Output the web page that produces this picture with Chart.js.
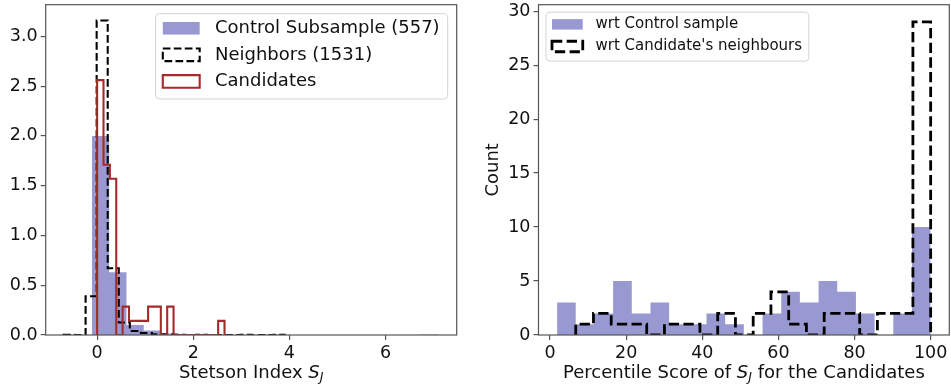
<!DOCTYPE html>
<html>
<head>
<meta charset="utf-8">
<script src="https://cdn.jsdelivr.net/npm/chart.js@4.4.1/dist/chart.umd.min.js"></script>
<style>
  html, body { margin: 0; padding: 0; background: #fff; }
  #wrap { position: relative; width: 951px; height: 388px; }
  .panel { position: absolute; top: 0; }
</style>
</head>
<body>
<div id="wrap">
  <div class="panel" style="left:0"><canvas id="left" width="480" height="388"></canvas></div>
  <div class="panel" style="left:480px"><canvas id="right" width="471" height="388"></canvas></div>
</div>
<script>
// --- DATA: left panel, density histograms of the Stetson index ---
const controlStart = -0.11;
const controlWidth = 0.36;
const controlDensity = [2.0, 0.63, 0.10, 0.045, 0.015, 0.005, 0, 0, 0, 0, 0.005, 0, 0, 0, 0, 0, 0, 0, 0, 0.005];

const neighStart = -0.70;
const neighWidth = 0.23;
const neighDensity = [0.003, 0, 0.39, 3.16, 0.67, 0.125, 0.04, 0.02, 0.008, 0.006, 0.003, 0, 0.003, 0, 0, 0, 0.003, 0, 0, 0.003];

const candStart = 0;
const candWidth = 0.1325;
const candDensity = [2.56, 1.71, 1.57, 0, 0.285, 0.142, 0.142, 0.142, 0.285, 0.285, 0, 0.285, 0, 0, 0, 0, 0, 0, 0, 0.142];

const leftXTicks = [0, 2, 4, 6];
const leftYTicks = [0, 0.5, 1.0, 1.5, 2.0, 2.5, 3.0];

// --- DATA: right panel, percentile scores of the candidates ---
const pctControlStart = 1.85;
const pctControlWidth = 4.9075;
const pctControlCounts = [3, 1, 2, 5, 2, 3, 1, 1, 2, 1, 0, 2, 4, 3, 5, 4, 2, 0, 2, 10];

const pctNeighStart = 6.75;
const pctNeighWidth = 4.6625;
const pctNeighCounts = [1, 2, 1, 1, 0, 1, 1, 0, 2, 0, 2, 4, 1, 0, 2, 2, 0, 2, 2, 29];

const rightXTicks = [0, 20, 40, 60, 80, 100];
const rightYTicks = [0, 5, 10, 15, 20, 25, 30];

// --- STYLE ---
const FONT = "'DejaVu Sans', sans-serif";
const FRAME = '#555';
const TEXT = '#111';
const CONTROL_FILL = 'rgba(0, 0, 139, 0.4)';
const CAND_RED = '#a52a2a';

Chart.defaults.font.family = FONT;
Chart.defaults.color = TEXT;
Chart.defaults.animation = false;

// outline of a histogram as a stepped line: edges and heights
function histPoints(start, width, values) {
    const pts = [{ x: start, y: 0 }];
    values.forEach((v, i) => pts.push({ x: start + i * width, y: v }));
    pts.push({ x: start + values.length * width, y: 0 });
    return pts;
}

// label with an italic S and subscript J, like matplotlib mathtext
function drawMath(ctx, parts, cx, y, size) {
    const fontFor = p => `${p.it ? 'italic ' : ''}${p.sub ? size * 0.7 : size}px ${FONT}`;
    const widths = parts.map(p => { ctx.font = fontFor(p); return ctx.measureText(p.t).width; });
    let x = cx - widths.reduce((s, w) => s + w, 0) / 2;
    ctx.textAlign = 'left';
    ctx.textBaseline = 'alphabetic';
    ctx.fillStyle = TEXT;
    parts.forEach((p, i) => {
        ctx.font = fontFor(p);
        ctx.fillText(p.t, x, y + (p.sub ? size * 0.2 : 0));
        x += widths[i];
    });
}

function drawLegend(ctx, a, L) {
    const fs = L.size;
    ctx.font = `${fs}px ${FONT}`;
    const tw = Math.max(...L.items.map(it => ctx.measureText(it.label).width));
    const w = fs * 3.75 + tw;
    const h = fs * (0.81 + 1.475 * (L.items.length - 1) + 0.98);
    const x = L.corner === 'right' ? a.right - fs * 0.5 - w : a.left + fs * 0.5;
    const y = a.top + fs * 0.5;

    ctx.beginPath();
    ctx.roundRect(x, y, w, h, 4);
    ctx.fillStyle = 'rgba(255,255,255,0.8)';
    ctx.fill();
    ctx.lineWidth = 1;
    ctx.strokeStyle = '#d3d3d3';
    ctx.stroke();

    L.items.forEach((it, i) => {
        const cy = y + fs * (0.81 + 1.475 * i);
        const hx = x + fs * 0.4, hw = fs * 2.05, hh = fs * 0.7;
        ctx.save();
        if (it.kind === 'fill') {
            ctx.fillStyle = it.color;
            ctx.fillRect(hx, cy - hh / 2, hw, hh);
        } else {
            ctx.strokeStyle = it.color;
            ctx.lineWidth = it.lw;
            ctx.setLineDash(it.dash);
            ctx.beginPath();
            ctx.rect(hx, cy - hh / 2, hw, hh);
            ctx.stroke();
        }
        ctx.restore();
        ctx.fillStyle = TEXT;
        ctx.font = `${fs}px ${FONT}`;
        ctx.textAlign = 'left';
        ctx.textBaseline = 'middle';
        ctx.fillText(it.label, hx + hw + fs * 0.85, cy);
    });
}

// frame, axis titles and legend, drawn the way matplotlib does
function makeDecorations(o) {
    return {
        id: 'decorations',
        afterDraw(chart) {
            const { ctx, chartArea: a } = chart;
            ctx.save();
            ctx.strokeStyle = FRAME;
            ctx.lineWidth = 1.2;
            ctx.strokeRect(a.left, a.top, a.right - a.left, a.bottom - a.top);
            drawMath(ctx, o.xTitle, (a.left + a.right) / 2, 377.5, 18);
            if (o.yTitle) {
                ctx.save();
                ctx.translate(13, (a.top + a.bottom) / 2);
                ctx.rotate(-Math.PI / 2);
                ctx.font = `18px ${FONT}`;
                ctx.fillStyle = TEXT;
                ctx.textAlign = 'center';
                ctx.textBaseline = 'middle';
                ctx.fillText(o.yTitle, 0, 0);
                ctx.restore();
            }
            drawLegend(ctx, a, o.legend);
            ctx.restore();
        }
    };
}

function axis(min, max, ticks, fmt, size) {
    return {
        type: 'linear',
        min: min,
        max: max,
        afterBuildTicks: s => { s.ticks = ticks.map(v => ({ value: v })); },
        afterFit: s => {
            if (s.isHorizontal()) s.height = 388 - 335; else s.width = size;
            s.paddingLeft = s.paddingRight = s.paddingTop = s.paddingBottom = 0;
        },
        grid: { drawOnChartArea: false, drawTicks: true, tickLength: 5, color: FRAME, lineWidth: 1.2 },
        border: { display: false },
        ticks: { font: { size: 17.5 }, color: TEXT, padding: 3, maxRotation: 0, autoSkip: false, callback: fmt }
    };
}

function stepLine(label, points, extra) {
    return Object.assign({
        label: label,
        data: points,
        stepped: 'before',
        pointRadius: 0,
        fill: false,
        borderWidth: 2.1
    }, extra);
}

// --- LEFT PANEL ---
const leftLabels = ['Control Subsample (557)', 'Neighbors (1531)', 'Candidates'];
new Chart(document.getElementById('left'), {
    type: 'line',
    data: {
        datasets: [
            stepLine(leftLabels[2], histPoints(candStart, candWidth, candDensity), { borderColor: CAND_RED, order: 1 }),
            stepLine(leftLabels[1], histPoints(neighStart, neighWidth, neighDensity), { borderColor: '#000', borderDash: [7.7, 3.3], order: 2 }),
            stepLine(leftLabels[0], histPoints(controlStart, controlWidth, controlDensity), {
                borderColor: 'rgba(0,0,0,0)', borderWidth: 0, backgroundColor: CONTROL_FILL, fill: 'origin', order: 3
            })
        ]
    },
    options: {
        responsive: false,
        layout: { padding: { left: 0, top: 4.7, right: 480 - 456.7, bottom: 0 } },
        scales: {
            x: axis(-1.07, 7.48, leftXTicks, v => String(v), 0),
            y: axis(0, 3.318, leftYTicks, v => v.toFixed(1), 45.7)
        },
        plugins: { legend: { display: false }, tooltip: { enabled: false } }
    },
    plugins: [makeDecorations({
        xTitle: [{ t: 'Stetson Index ' }, { t: 'S', it: true }, { t: 'J', it: true, sub: true }],
        legend: {
            corner: 'right', size: 18,
            items: [
                { label: leftLabels[0], kind: 'fill', color: CONTROL_FILL },
                { label: leftLabels[1], kind: 'line', color: '#000', lw: 2.1, dash: [7.7, 3.3] },
                { label: leftLabels[2], kind: 'line', color: CAND_RED, lw: 2.1, dash: [] }
            ]
        }
    })]
});

// --- RIGHT PANEL ---
const rightLabels = ['wrt Control sample', "wrt Candidate's neighbours"];
new Chart(document.getElementById('right'), {
    type: 'line',
    data: {
        datasets: [
            stepLine(rightLabels[1], histPoints(pctNeighStart, pctNeighWidth, pctNeighCounts), {
                borderColor: '#000', borderWidth: 2.8, borderDash: [10.3, 4.4], order: 1
            }),
            stepLine(rightLabels[0], histPoints(pctControlStart, pctControlWidth, pctControlCounts), {
                borderColor: 'rgba(0,0,0,0)', borderWidth: 0, backgroundColor: CONTROL_FILL, fill: 'origin', order: 2
            })
        ]
    },
    options: {
        responsive: false,
        layout: { padding: { left: 0, top: 4.7, right: 471 - 469.3, bottom: 0 } },
        scales: {
            x: axis(-3.03, 104.9, rightXTicks, v => String(v), 0),
            y: axis(0, 30.6, rightYTicks, v => String(v), 58.5)
        },
        plugins: { legend: { display: false }, tooltip: { enabled: false } }
    },
    plugins: [makeDecorations({
        xTitle: [{ t: 'Percentile Score of ' }, { t: 'S', it: true }, { t: 'J', it: true, sub: true }, { t: ' for the Candidates' }],
        yTitle: 'Count',
        legend: {
            corner: 'left', size: 15,
            items: [
                { label: rightLabels[0], kind: 'fill', color: CONTROL_FILL },
                { label: rightLabels[1], kind: 'line', color: '#000', lw: 2.8, dash: [10.3, 4.4] }
            ]
        }
    })]
});
</script>
</body>
</html>
